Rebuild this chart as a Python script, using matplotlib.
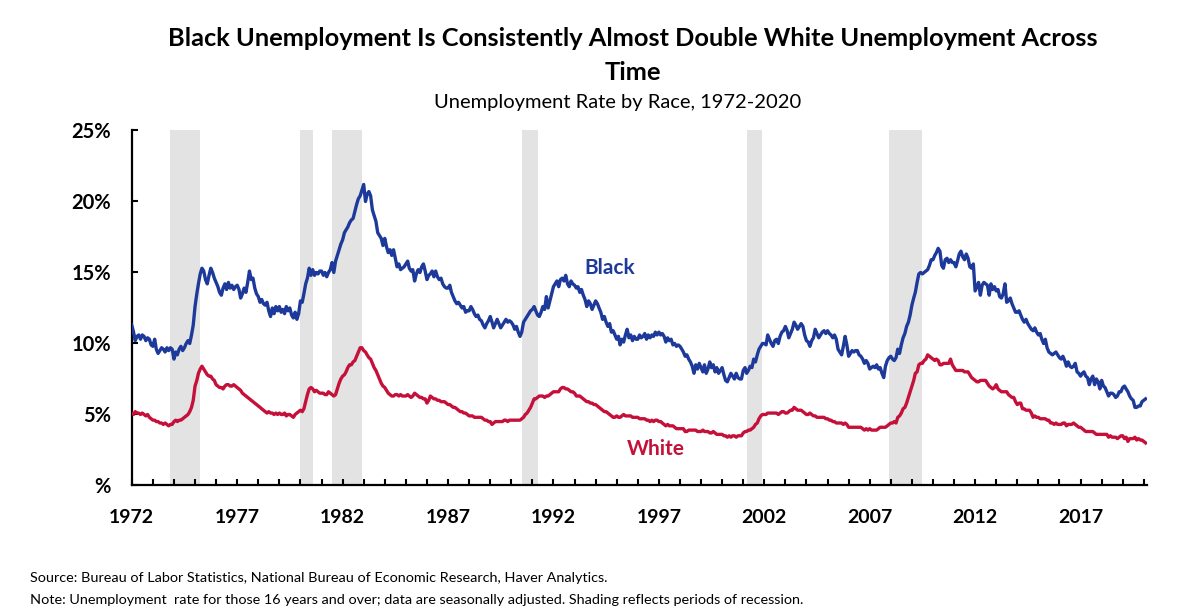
import numpy as np
import pandas as pd
import matplotlib
matplotlib.use('Agg')
import matplotlib.pyplot as plt
import matplotlib.dates as mdates
from matplotlib.ticker import FixedLocator, FixedFormatter

# monthly unemployment rate (%), Jan 1972 - Feb 2020
black = [
    11.3, 10.8, 10.2, 10.5, 10.6, 10.3, 10.6, 10.5, 10.2, 10.4, 10.3, 9.9,   # 1972
    9.8, 10.3, 9.6, 9.3, 9.5, 9.7, 9.6, 9.4, 9.7, 9.5, 9.7, 9.6,             # 1973
    8.9, 9.4, 9.2, 9.6, 9.8, 9.5, 9.7, 10.0, 10.2, 10.0, 10.6, 11.3,         # 1974
    12.6, 13.5, 14.2, 14.9, 15.3, 15.1, 14.5, 14.2, 14.8, 15.3, 15.0, 14.6,  # 1975
    14.3, 14.0, 13.6, 13.4, 13.9, 14.2, 13.8, 14.3, 13.9, 14.1, 13.8, 14.0,  # 1976
    14.1, 13.8, 13.2, 13.5, 13.9, 13.6, 14.3, 15.1, 14.5, 14.6, 13.9, 13.5,  # 1977
    13.3, 12.9, 13.1, 12.8, 12.7, 12.9, 12.3, 11.9, 12.5, 12.1, 12.6, 12.3,  # 1978
    12.6, 12.2, 12.4, 12.1, 12.6, 12.3, 12.5, 12.0, 11.8, 12.2, 11.7, 12.1,  # 1979
    13.0, 12.9, 13.5, 14.2, 14.6, 15.3, 14.8, 15.2, 14.8, 15.0, 14.9, 15.1,  # 1980
    15.1, 14.8, 15.0, 14.7, 15.0, 15.2, 15.7, 15.0, 15.8, 16.2, 16.6, 17.0,  # 1981
    17.3, 17.8, 18.0, 18.2, 18.5, 18.7, 18.8, 19.3, 19.8, 20.2, 20.4, 20.8,  # 1982
    21.2, 20.0, 20.5, 20.7, 20.4, 19.4, 19.0, 18.6, 17.8, 17.6, 17.4, 16.9,  # 1983
    17.4, 16.8, 16.4, 16.6, 16.2, 16.6, 16.0, 15.4, 15.6, 15.2, 15.3, 15.4,  # 1984
    15.6, 15.8, 15.3, 15.1, 15.2, 14.4, 14.9, 15.2, 15.0, 15.4, 15.6, 15.1,  # 1985
    14.5, 14.8, 14.9, 15.1, 14.7, 15.1, 14.7, 14.5, 14.6, 14.2, 14.0, 13.9,  # 1986
    13.9, 14.1, 13.6, 13.3, 13.0, 12.8, 12.9, 12.7, 12.5, 12.6, 12.2, 12.3,  # 1987
    12.3, 12.6, 12.4, 12.1, 11.9, 12.0, 11.7, 11.6, 11.3, 11.1, 11.4, 11.6,  # 1988
    11.9, 11.5, 11.1, 11.4, 11.7, 11.4, 11.1, 11.3, 11.5, 11.7, 11.5, 11.6,  # 1989
    11.5, 11.3, 11.0, 11.2, 10.8, 10.5, 10.8, 11.5, 11.7, 11.9, 12.1, 12.3,  # 1990
    12.4, 12.6, 12.3, 12.0, 11.9, 12.2, 12.6, 12.4, 13.3, 12.5, 13.0, 13.5,  # 1991
    14.0, 14.2, 14.4, 14.0, 14.5, 14.6, 14.4, 14.8, 14.2, 14.0, 14.4, 14.2,  # 1992
    14.1, 13.9, 14.0, 13.6, 13.8, 13.4, 13.1, 12.6, 13.0, 12.8, 12.4, 12.7,  # 1993
    13.0, 12.8, 12.5, 12.2, 11.7, 11.9, 11.5, 11.2, 11.4, 10.8, 10.9, 10.6,  # 1994
    10.3, 10.5, 9.9, 10.3, 10.1, 10.6, 11.0, 10.4, 10.6, 10.2, 10.5, 10.3,   # 1995
    10.3, 10.6, 10.4, 10.5, 10.7, 10.3, 10.6, 10.4, 10.6, 10.5, 10.8, 10.6,  # 1996
    10.8, 10.6, 10.7, 10.5, 10.1, 10.4, 10.2, 10.3, 9.9, 10.0, 9.8, 9.9,     # 1997
    9.8, 9.6, 9.4, 9.1, 9.2, 8.9, 8.7, 8.4, 7.9, 8.5, 8.2, 8.6,              # 1998
    8.3, 8.0, 8.5, 7.9, 8.2, 8.7, 8.3, 8.5, 8.0, 8.3, 7.9, 8.1,              # 1999
    8.3, 7.8, 7.4, 7.3, 7.6, 7.9, 7.7, 7.5, 7.9, 7.6, 7.5, 7.5,              # 2000
    8.1, 8.3, 7.9, 8.1, 8.4, 8.3, 8.9, 8.7, 9.2, 9.6, 9.8, 10.0,             # 2001
    10.0, 9.9, 10.6, 10.3, 10.0, 9.8, 10.2, 10.3, 10.0, 10.5, 10.8, 10.9,    # 2002
    11.2, 10.9, 10.4, 10.7, 11.0, 11.5, 11.3, 11.0, 11.2, 11.4, 11.2, 10.6,  # 2003
    10.2, 10.1, 9.8, 10.2, 10.4, 11.0, 10.7, 10.4, 10.6, 10.8, 10.9, 10.7,   # 2004
    10.9, 10.7, 10.6, 10.4, 10.6, 10.3, 9.6, 9.4, 9.2, 9.8, 10.5, 9.9,       # 2005
    9.1, 9.3, 9.5, 9.4, 9.5, 9.5, 9.2, 9.1, 8.9, 8.6, 8.8, 8.6,              # 2006
    8.2, 8.3, 8.4, 8.3, 8.5, 8.2, 8.3, 7.9, 7.6, 8.4, 8.8, 9.0,              # 2007
    9.1, 8.9, 8.8, 9.0, 9.6, 9.3, 9.9, 10.4, 10.7, 11.2, 11.5, 12.0,         # 2008
    12.7, 13.2, 13.6, 14.3, 14.9, 15.0, 14.9, 15.0, 15.1, 15.2, 15.5, 15.9,  # 2009
    15.9, 16.2, 16.4, 16.7, 16.5, 15.5, 15.3, 15.9, 16.0, 15.7, 15.9, 15.7,  # 2010
    15.7, 15.4, 15.8, 16.3, 16.5, 16.1, 15.9, 16.3, 16.0, 15.4, 15.3, 15.6,  # 2011
    13.7, 14.0, 14.3, 13.4, 14.1, 14.3, 14.2, 14.1, 13.4, 14.2, 13.8, 14.0,  # 2012
    13.7, 13.8, 13.3, 13.2, 13.5, 14.2, 12.9, 13.0, 13.2, 12.8, 12.5, 12.2,  # 2013
    12.2, 12.3, 12.0, 11.7, 11.5, 11.7, 11.4, 11.2, 11.0, 10.9, 11.1, 10.8,  # 2014
    10.6, 10.7, 10.3, 10.0, 10.3, 9.7, 9.4, 9.3, 9.2, 9.3, 9.4, 9.2,         # 2015
    9.0, 8.9, 9.1, 8.8, 8.4, 8.7, 8.4, 8.3, 8.4, 8.6, 8.0, 7.9,              # 2016
    7.7, 7.9, 8.0, 7.7, 7.6, 7.1, 7.5, 7.7, 7.1, 7.5, 7.3, 6.8,              # 2017
    7.4, 7.0, 6.9, 6.6, 6.3, 6.5, 6.5, 6.4, 6.2, 6.3, 6.6, 6.6,              # 2018
    6.9, 7.0, 6.8, 6.6, 6.3, 6.1, 6.0, 5.5, 5.5, 5.6, 5.6, 5.9,              # 2019
    6.0, 6.1,                                                                # 2020
]

white = [
    5.1, 5.0, 5.2, 5.1, 5.1, 5.0, 5.1, 5.0, 4.9, 5.0, 4.8, 4.7,   # 1972
    4.6, 4.6, 4.5, 4.5, 4.4, 4.4, 4.3, 4.4, 4.3, 4.2, 4.3, 4.3,   # 1973
    4.5, 4.6, 4.5, 4.6, 4.6, 4.7, 4.8, 4.9, 5.0, 5.2, 5.5, 6.0,   # 1974
    7.0, 7.4, 7.9, 8.2, 8.4, 8.2, 8.0, 7.8, 7.7, 7.7, 7.5, 7.4,   # 1975
    7.1, 7.0, 6.9, 6.9, 6.8, 7.0, 7.1, 7.1, 7.0, 7.0, 7.1, 7.0,   # 1976
    6.9, 6.8, 6.7, 6.5, 6.4, 6.3, 6.2, 6.1, 6.0, 5.9, 5.8, 5.7,   # 1977
    5.6, 5.5, 5.4, 5.3, 5.2, 5.1, 5.2, 5.1, 5.1, 5.0, 5.1, 5.0,   # 1978
    5.1, 5.0, 5.0, 5.1, 4.9, 5.0, 5.0, 4.9, 4.8, 5.0, 5.1, 5.2,   # 1979
    5.3, 5.2, 5.4, 5.9, 6.4, 6.8, 6.9, 6.8, 6.6, 6.7, 6.6, 6.5,   # 1980
    6.5, 6.5, 6.4, 6.4, 6.6, 6.5, 6.4, 6.3, 6.4, 6.8, 7.2, 7.5,   # 1981
    7.7, 7.8, 8.0, 8.3, 8.5, 8.5, 8.7, 8.8, 9.1, 9.4, 9.7, 9.7,   # 1982
    9.5, 9.4, 9.2, 9.0, 8.9, 8.6, 8.3, 8.1, 7.8, 7.5, 7.2, 7.0,   # 1983
    6.9, 6.7, 6.5, 6.4, 6.3, 6.3, 6.4, 6.4, 6.3, 6.4, 6.3, 6.3,   # 1984
    6.3, 6.4, 6.3, 6.2, 6.3, 6.5, 6.4, 6.3, 6.2, 6.2, 6.1, 6.1,   # 1985
    5.8, 6.0, 6.3, 6.2, 6.1, 6.1, 6.0, 6.0, 5.9, 5.9, 5.9, 5.8,   # 1986
    5.7, 5.7, 5.6, 5.5, 5.5, 5.4, 5.3, 5.2, 5.2, 5.1, 5.1, 5.0,   # 1987
    4.9, 4.9, 4.9, 4.8, 4.8, 4.8, 4.8, 4.8, 4.7, 4.6, 4.6, 4.5,   # 1988
    4.5, 4.3, 4.4, 4.5, 4.5, 4.5, 4.5, 4.5, 4.6, 4.6, 4.5, 4.6,   # 1989
    4.6, 4.6, 4.6, 4.6, 4.6, 4.6, 4.7, 4.8, 5.0, 5.1, 5.3, 5.5,   # 1990
    5.8, 6.1, 6.1, 6.2, 6.3, 6.3, 6.3, 6.2, 6.3, 6.3, 6.4, 6.5,   # 1991
    6.6, 6.6, 6.6, 6.6, 6.8, 6.9, 6.9, 6.8, 6.8, 6.7, 6.6, 6.6,   # 1992
    6.5, 6.3, 6.3, 6.3, 6.2, 6.1, 6.0, 5.9, 5.9, 5.8, 5.8, 5.7,   # 1993
    5.7, 5.6, 5.5, 5.4, 5.3, 5.2, 5.2, 5.1, 5.0, 4.9, 4.8, 4.8,   # 1994
    4.9, 4.8, 4.8, 4.9, 5.0, 4.9, 4.9, 4.9, 4.9, 4.8, 4.8, 4.8,   # 1995
    4.8, 4.7, 4.7, 4.7, 4.7, 4.6, 4.6, 4.5, 4.6, 4.5, 4.6, 4.6,   # 1996
    4.5, 4.5, 4.4, 4.3, 4.2, 4.3, 4.2, 4.2, 4.2, 4.1, 4.0, 4.0,   # 1997
    4.0, 4.0, 4.0, 3.8, 3.8, 3.9, 3.9, 3.9, 3.9, 3.9, 3.8, 3.8,   # 1998
    3.8, 3.9, 3.8, 3.8, 3.8, 3.7, 3.7, 3.8, 3.7, 3.6, 3.6, 3.6,   # 1999
    3.6, 3.5, 3.5, 3.4, 3.5, 3.4, 3.5, 3.5, 3.4, 3.5, 3.5, 3.5,   # 2000
    3.7, 3.8, 3.8, 3.9, 3.9, 4.0, 4.1, 4.3, 4.4, 4.7, 4.9, 5.0,   # 2001
    5.0, 5.0, 5.1, 5.1, 5.1, 5.1, 5.1, 5.1, 5.0, 5.1, 5.2, 5.2,   # 2002
    5.1, 5.1, 5.2, 5.3, 5.3, 5.5, 5.4, 5.3, 5.3, 5.3, 5.2, 5.1,   # 2003
    5.0, 5.0, 5.1, 5.0, 4.9, 4.9, 4.8, 4.8, 4.8, 4.8, 4.8, 4.7,   # 2004
    4.7, 4.6, 4.6, 4.5, 4.5, 4.4, 4.4, 4.4, 4.4, 4.3, 4.4, 4.3,   # 2005
    4.1, 4.1, 4.1, 4.1, 4.1, 4.1, 4.1, 4.1, 4.0, 3.9, 4.0, 3.9,   # 2006
    4.0, 3.9, 3.9, 3.9, 3.9, 4.0, 4.1, 4.1, 4.1, 4.1, 4.2, 4.3,   # 2007
    4.4, 4.4, 4.5, 4.4, 4.8, 4.9, 5.1, 5.4, 5.5, 5.8, 6.2, 6.6,   # 2008
    7.0, 7.4, 7.9, 8.0, 8.5, 8.6, 8.6, 8.8, 8.9, 9.2, 9.1, 9.0,   # 2009
    8.9, 8.8, 8.9, 8.8, 8.5, 8.5, 8.6, 8.6, 8.6, 8.6, 8.9, 8.5,   # 2010
    8.3, 8.1, 8.1, 8.1, 8.1, 8.1, 8.0, 8.0, 8.0, 7.8, 7.6, 7.5,   # 2011
    7.4, 7.3, 7.3, 7.4, 7.4, 7.4, 7.4, 7.2, 7.0, 6.9, 6.8, 6.9,   # 2012
    7.1, 6.8, 6.7, 6.6, 6.6, 6.6, 6.6, 6.4, 6.3, 6.2, 6.2, 5.9,   # 2013
    5.7, 5.8, 5.8, 5.4, 5.4, 5.3, 5.3, 5.3, 5.1, 4.8, 4.9, 4.8,   # 2014
    4.8, 4.7, 4.7, 4.7, 4.7, 4.6, 4.6, 4.4, 4.4, 4.3, 4.4, 4.3,   # 2015
    4.3, 4.3, 4.4, 4.4, 4.2, 4.3, 4.3, 4.3, 4.4, 4.3, 4.2, 4.1,   # 2016
    4.1, 4.0, 3.9, 3.8, 3.8, 3.8, 3.8, 3.8, 3.7, 3.6, 3.6, 3.6,   # 2017
    3.6, 3.6, 3.6, 3.6, 3.4, 3.5, 3.4, 3.4, 3.4, 3.3, 3.4, 3.5,   # 2018
    3.5, 3.3, 3.4, 3.1, 3.3, 3.3, 3.3, 3.4, 3.2, 3.3, 3.2, 3.2,   # 2019
    3.1, 3.0,                                                      # 2020
]

# NBER recessions (start, end)
recessions = [("1973-11-01", "1975-03-31"), ("1980-01-01", "1980-07-31"),
              ("1981-07-01", "1982-11-30"), ("1990-07-01", "1991-03-31"),
              ("2001-03-01", "2001-11-30"), ("2007-12-01", "2009-06-30")]

label_years = [1972, 1977, 1982, 1987, 1992, 1997, 2002, 2007, 2012, 2017]
y_ticks = [0, 5, 10, 15, 20, 25]
y_labels = ["%", "5%", "10%", "15%", "20%", "25%"]

dates = pd.date_range("1972-01-01", periods=len(black), freq="MS")

plt.rcParams['font.family'] = ['Lato', 'DejaVu Sans']
blue = '#1d3a9a'
red = '#c5103a'

fig = plt.figure(figsize=(12, 6.08), dpi=100)
ax = fig.add_axes([0.1098, 0.2015, 0.8460, 0.5839])

for s, e in recessions:
    ax.axvspan(pd.Timestamp(s), pd.Timestamp(e), color='#e3e3e3', lw=0, zorder=0)

ax.plot(dates, black, color=blue, lw=2.4, zorder=3)
ax.plot(dates, white, color=red, lw=2.4, zorder=3)

ax.set_ylim(0, 25)
ax.set_xlim(pd.Timestamp("1972-01-01"), pd.Timestamp("2020-02-25"))

ax.yaxis.set_major_locator(FixedLocator(y_ticks))
ax.yaxis.set_major_formatter(FixedFormatter(y_labels))
tick_pos = [mdates.date2num(pd.Timestamp(f"{y}-01-01")) for y in label_years]
ax.xaxis.set_major_locator(FixedLocator(tick_pos))
ax.xaxis.set_major_formatter(FixedFormatter([str(y) for y in label_years]))
ax.xaxis.set_minor_locator(mdates.YearLocator(1))

ax.tick_params(axis='both', which='both', direction='in', length=4.5, width=1.5, color='black')
ax.tick_params(axis='y', pad=15, labelsize=14.5)
ax.tick_params(axis='x', pad=17, labelsize=14)
for lab in ax.get_xticklabels() + ax.get_yticklabels():
    lab.set_fontweight('bold')

for side in ['top', 'right']:
    ax.spines[side].set_visible(False)
for side in ['left', 'bottom']:
    ax.spines[side].set_linewidth(1.6)

ax.text(pd.Timestamp("1994-09-01"), 15.35, "Black", color=blue, fontsize=15,
        fontweight='bold', ha='center', va='center')
ax.text(pd.Timestamp("1996-11-01"), 2.55, "White", color=red, fontsize=15,
        fontweight='bold', ha='center', va='center')

fig.text(0.527, 0.924, "Black Unemployment Is Consistently Almost Double White Unemployment Across",
         ha='center', va='baseline', fontsize=18.3, fontweight='bold')
fig.text(0.527, 0.868, "Time", ha='center', va='baseline', fontsize=18.3, fontweight='bold')
fig.text(0.515, 0.823, "Unemployment Rate by Race, 1972-2020", ha='center', va='baseline', fontsize=14.5)

fig.text(0.025, 0.043, "Source: Bureau of Labor Statistics, National Bureau of Economic Research, Haver Analytics.",
         ha='left', va='baseline', fontsize=10.4)
fig.text(0.025, 0.007, "Note: Unemployment  rate for those 16 years and over; data are seasonally adjusted. Shading reflects periods of recession.",
         ha='left', va='baseline', fontsize=10.4)

fig.savefig('out.png', dpi=100)
